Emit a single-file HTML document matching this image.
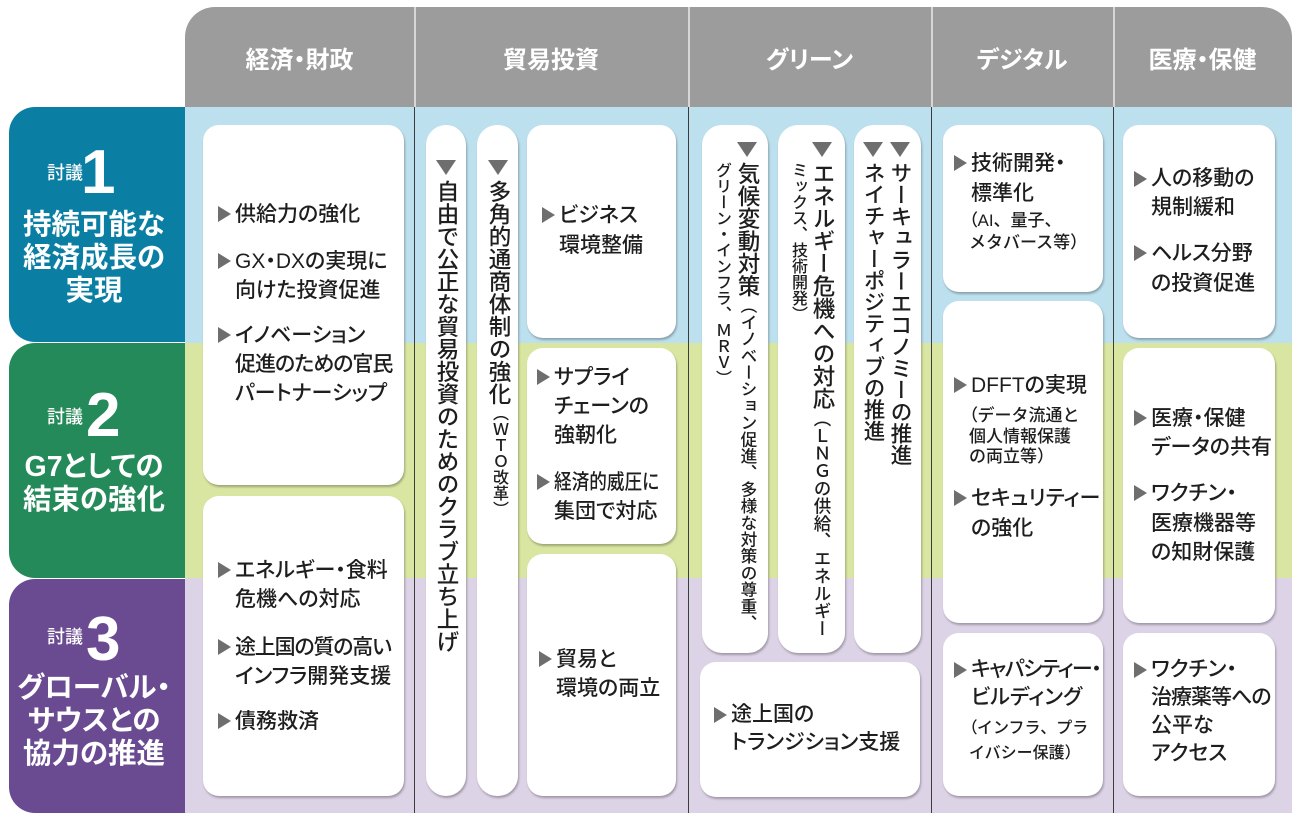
<!DOCTYPE html>
<html lang="ja">
<head>
<meta charset="utf-8">
<style>
*{margin:0;padding:0;box-sizing:border-box}
body{width:1300px;height:820px;position:relative;overflow:hidden;background:#fff;font-family:"Liberation Sans","Noto Sans CJK JP",sans-serif;color:#1e1e1e}
.a{position:absolute}
.hdr{position:absolute;left:185px;top:7px;width:1107px;height:100px;background:#9c9c9c;border-radius:30px 30px 0 0}
.hl{position:absolute;top:7px;height:100px;width:1.5px;background:#d6d6d6}
.ht{position:absolute;top:7px;height:100px;display:flex;align-items:center;justify-content:center;color:#fff;font-weight:700;font-size:24px;font-feature-settings:"palt";font-family:"Liberation Sans","Noto Sans CJK JP",sans-serif}
.band{position:absolute;left:185px;width:1107px}
.vl{position:absolute;top:107px;height:706px;width:1px;background:#3c3c3c}
.card{position:absolute;background:#fff;border-radius:16px;box-shadow:1px 2px 2px rgba(0,0,0,.28)}
.it{position:absolute;white-space:nowrap;font-size:21px;line-height:29px;font-weight:500;font-feature-settings:"palt"}
.it i{position:absolute;left:-17px;top:5.5px;width:0;height:0;border-top:8.5px solid transparent;border-bottom:8.5px solid transparent;border-left:13px solid #6e6e6e}
.sq{display:inline-block;transform-origin:0 50%}
.sm{position:absolute;white-space:nowrap;font-size:17px;line-height:21px;font-weight:500}
.pl{font-feature-settings:"palt"}
.vt{position:absolute;writing-mode:vertical-rl;white-space:nowrap;font-weight:500}
.dn{position:absolute;width:0;height:0;border-left:10px solid transparent;border-right:10px solid transparent;border-top:15px solid #6e6e6e}
.lab{position:absolute;left:9px;width:176px;border-radius:26px 0 0 26px}
.tg{position:absolute;left:47px;font-size:18px;line-height:26px;color:#fff;font-weight:500}
.num{position:absolute;font-family:"Liberation Sans",sans-serif;font-weight:700;font-size:62px;line-height:62px;color:#fff}
.lt{position:absolute;left:9px;width:170px;text-align:center;color:#fff;font-weight:700;font-size:28.5px;line-height:33px;white-space:nowrap;font-feature-settings:"palt"}
</style>
</head>
<body>

<!-- header -->
<div class="hdr"></div>
<div class="ht" style="left:185px;width:229px">経済・財政</div>
<div class="ht" style="left:414px;width:274px">貿易投資</div>
<div class="ht" style="left:688px;width:243px">グリーン</div>
<div class="ht" style="left:931px;width:182px">デジタル</div>
<div class="ht" style="left:1113px;width:179px">医療・保健</div>
<div class="hl" style="left:414px"></div>
<div class="hl" style="left:688px"></div>
<div class="hl" style="left:931px"></div>
<div class="hl" style="left:1113px"></div>

<!-- bands -->
<div class="band" style="top:107px;height:236px;background:#bde0ee"></div>
<div class="band" style="top:343px;height:235px;background:#d9e6a2"></div>
<div class="band" style="top:578px;height:235px;background:#ddd3e6"></div>
<div class="vl" style="left:414px"></div>
<div class="vl" style="left:688px"></div>
<div class="vl" style="left:931px"></div>
<div class="vl" style="left:1113px"></div>

<!-- left labels -->
<div class="lab" style="top:107px;height:235px;background:#0b7fa3"></div>
<div class="lab" style="top:343px;height:235px;background:#258a59"></div>
<div class="lab" style="top:579px;height:234px;background:#6a4b91"></div>

<div class="tg" style="top:160px">討議</div>
<div class="num" style="left:81px;top:142px">1</div>
<div class="lt" style="top:209px">持続可能な<br>経済成長の<br>実現</div>

<div class="tg" style="top:404px">討議</div>
<div class="num" style="left:86px;top:385px">2</div>
<div class="lt" style="top:451px">G7としての<br>結束の強化</div>

<div class="tg" style="top:624px">討議</div>
<div class="num" style="left:86px;top:609px">3</div>
<div class="lt" style="top:672px">グローバル・<br>サウスとの<br>協力の推進</div>

<!-- column 1 -->
<div class="card" style="left:203px;top:125px;width:201px;height:360px"></div>
<div class="card" style="left:203px;top:496px;width:201px;height:300px"></div>
<div class="it" style="left:235px;top:200px"><i></i>供給力の強化</div>
<div class="it" style="left:235px;top:247px"><i></i>GX・DXの実現に<br>向けた投資促進</div>
<div class="it" style="left:235px;top:321px"><i></i>イノベーション<br><span style="letter-spacing:-1px">促進のための官民</span><br>パートナーシップ</div>
<div class="it" style="left:235px;top:556px"><i></i>エネルギー・食料<br>危機への対応</div>
<div class="it" style="left:235px;top:633px"><i></i><span style="letter-spacing:-1.2px">途上国の質の高い</span><br>インフラ開発支援</div>
<div class="it" style="left:235px;top:707px"><i></i>債務救済</div>

<!-- column 2 trade -->
<div class="card" style="left:426px;top:125px;width:40px;height:671px;border-radius:20px"></div>
<div class="card" style="left:477px;top:125px;width:41px;height:671px;border-radius:20px"></div>
<div class="dn" style="left:436px;top:160px"></div>
<div class="dn" style="left:488px;top:160px"></div>
<div class="vt" style="left:434px;top:180px;width:24px;line-height:24px;font-size:22.5px">自由で公正な貿易投資のためのクラブ立ち上げ</div>
<div class="vt" style="left:486px;top:180px;width:24px;line-height:24px;font-size:22.5px">多角的通商体制の強化<span style="font-size:16px">（ＷＴＯ改革）</span></div>

<div class="card" style="left:527px;top:125px;width:149px;height:213px"></div>
<div class="card" style="left:527px;top:348px;width:149px;height:196px"></div>
<div class="card" style="left:527px;top:554px;width:149px;height:242px"></div>
<div class="it" style="left:559px;top:201px;line-height:30px"><i></i>ビジネス<br>環境整備</div>
<div class="it" style="left:554px;top:363px"><i></i>サプライ<br>チェーンの<br>強靭化</div>
<div class="it" style="left:554px;top:468px"><i></i><span class="sq" style="transform:scaleX(0.84)">経済的威圧に</span><br>集団で対応</div>
<div class="it" style="left:556px;top:645px"><i></i>貿易と<br>環境の両立</div>

<!-- column 3 green -->
<div class="card" style="left:702px;top:125px;width:66px;height:528px;border-radius:20px"></div>
<div class="card" style="left:778px;top:125px;width:67px;height:528px;border-radius:20px"></div>
<div class="card" style="left:854px;top:125px;width:67px;height:528px;border-radius:20px"></div>
<div class="card" style="left:700px;top:662px;width:220px;height:135px"></div>

<div class="dn" style="left:737px;top:142px"></div>
<div class="vt" style="left:735px;top:162px;width:24px;line-height:24px;font-size:22.5px">気候変動対策<span style="font-size:16.7px">（イノベーション促進、多様な対策の尊重、</span></div>
<div class="vt" style="left:712px;top:162px;width:18px;line-height:18px;font-size:16px">グリーン・インフラ、ＭＲＶ）</div>

<div class="dn" style="left:812px;top:142px"></div>
<div class="vt" style="left:810px;top:162px;width:24px;line-height:24px;font-size:22.5px">エネルギー危機への対応<span style="font-size:17.5px">（ＬＮＧの供給、エネルギー</span></div>
<div class="vt" style="left:789px;top:162px;width:17px;line-height:17px;font-size:16px">ミックス、技術開発）</div>

<div class="dn" style="left:863px;top:142px"></div>
<div class="dn" style="left:890px;top:142px"></div>
<div class="vt" style="left:861px;top:162px;width:24px;line-height:24px;font-size:21.5px">ネイチャーポジティブの推進</div>
<div class="vt" style="left:888px;top:162px;width:24px;line-height:24px;font-size:21.7px">サーキュラーエコノミーの推進</div>

<div class="it" style="left:731px;top:701px;line-height:28px"><i></i>途上国の<br>トランジション支援</div>

<!-- column 4 digital -->
<div class="card" style="left:943px;top:125px;width:160px;height:167px"></div>
<div class="card" style="left:943px;top:301px;width:160px;height:322px"></div>
<div class="card" style="left:943px;top:633px;width:160px;height:163px"></div>
<div class="it" style="left:971px;top:149px;line-height:30px"><i></i>技術開発・<br>標準化</div>
<div class="sm" style="left:969px;top:210px;line-height:22px"><span class="pl">（</span>AI、量子、<br>メタバース等）</div>
<div class="it" style="left:971px;top:371px"><i></i>DFFTの実現</div>
<div class="sm" style="left:969px;top:406px;line-height:20.5px"><span class="pl">（</span>データ流通と<br>個人情報保護<br>の両立等）</div>
<div class="it" style="left:971px;top:484px;line-height:30px"><i></i>セキュリティー<br>の強化</div>
<div class="it" style="left:971px;top:656px;line-height:28px"><i></i><span style="letter-spacing:-1.5px">キャパシティー・</span><br>ビルディング</div>
<div class="sm" style="left:969px;top:716px;line-height:25px;font-size:16px"><span class="pl">（</span>インフラ、プラ<br>イバシー保護）</div>

<!-- column 5 health -->
<div class="card" style="left:1123px;top:125px;width:152px;height:213px"></div>
<div class="card" style="left:1123px;top:348px;width:152px;height:275px"></div>
<div class="card" style="left:1123px;top:633px;width:152px;height:163px"></div>
<div class="it" style="left:1151px;top:165px;line-height:28.5px"><i></i>人の移動の<br>規制緩和</div>
<div class="it" style="left:1151px;top:239px;line-height:30px"><i></i>ヘルス分野<br>の投資促進</div>
<div class="it" style="left:1151px;top:404px"><i></i>医療・保健<br>データの共有</div>
<div class="it" style="left:1151px;top:479px;line-height:29.5px"><i></i>ワクチン・<br>医療機器等<br>の知財保護</div>
<div class="it" style="left:1151px;top:656px;line-height:28px"><i></i>ワクチン・<br><span style="letter-spacing:-1px">治療薬等への</span><br>公平な<br>アクセス</div>

</body>
</html>
